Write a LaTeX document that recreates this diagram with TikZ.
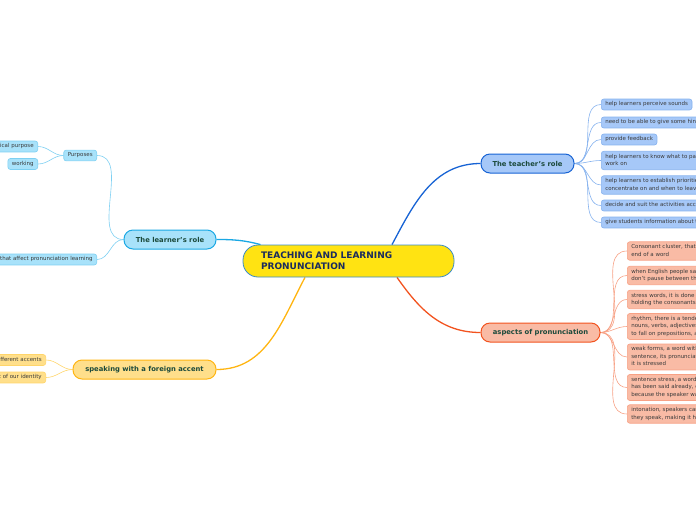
\documentclass[tikz,border=0pt]{standalone}
\usepackage{fontspec}
\setmainfont{DejaVu Sans}
\usepackage{xcolor}
\usetikzlibrary{backgrounds,positioning}
\definecolor{coreyellow}{HTML}{FFE312}
\definecolor{coreedge}{HTML}{3A8BC8}
\definecolor{coretext}{HTML}{1A2B5E}
\definecolor{teachline}{HTML}{1763D4}
\definecolor{teachfill}{HTML}{A6C8F8}
\definecolor{teachsoft}{HTML}{86B2EE}
\definecolor{learnline}{HTML}{1AA8E4}
\definecolor{learnfill}{HTML}{A8E2FA}
\definecolor{learnsoft}{HTML}{7ED0F2}
\definecolor{accentline}{HTML}{FFB512}
\definecolor{accentfill}{HTML}{FFDF8B}
\definecolor{accentsoft}{HTML}{FFD56A}
\definecolor{aspectline}{HTML}{F2531F}
\definecolor{aspectfill}{HTML}{F9BBA5}
\definecolor{aspectsoft}{HTML}{F7A185}
\definecolor{topictext}{HTML}{1C4A3C}
\definecolor{leaftext}{HTML}{3A3A3A}
\tikzset{
  core/.style={
    draw=coreedge, line width=0.8pt, fill=coreyellow, rounded corners=15pt,
    minimum width=211pt, minimum height=32pt, text width=175pt, align=left,
    text=coretext, font=\fontsize{9}{11}\selectfont\bfseries
  },
  topic/.style={
    line width=1pt, rounded corners=9pt, minimum height=19pt, inner sep=0pt,
    text=topictext, font=\fontsize{6.8}{8}\selectfont\bfseries
  },
  leaf/.style={
    line width=0.6pt, rounded corners=2.5pt, inner xsep=4pt, inner ysep=2.75pt,
    text depth=1.3pt, align=left, text=leaftext, font=\fontsize{5.5}{7.5}\selectfont
  },
  teachtopic/.style={topic, draw=teachline, fill=teachfill},
  learntopic/.style={topic, draw=learnline, fill=learnfill},
  accenttopic/.style={topic, draw=accentline, fill=accentfill},
  aspecttopic/.style={topic, draw=aspectline, fill=aspectfill},
  teachleaf/.style={leaf, draw=teachsoft, fill=teachfill, anchor=west},
  learnleaf/.style={leaf, draw=learnsoft, fill=learnfill, anchor=east},
  accentleaf/.style={leaf, draw=accentsoft, fill=accentfill, anchor=east},
  aspectleaf/.style={leaf, draw=aspectsoft, fill=aspectfill, anchor=west},
  branch/.style={line width=1.3pt},
  twig/.style={line width=0.6pt}
}
\begin{document}
\begin{tikzpicture}[x=1pt,y=1pt]
  \useasboundingbox (0,-520) rectangle (696,0);
  \clip (0,-520) rectangle (696,0);

  % Central topic
  \node[core] (centre) at (348.5,-261) {TEACHING AND LEARNING\\PRONUNCIATION};

  % Main topics
  \node[teachtopic, minimum width=93pt] (teacher) at (527.5,-163.5) {The teacher's role};
  \node[learntopic, minimum width=92pt] (learner) at (170,-239.5) {The learner's role};
  \node[accenttopic, minimum width=143pt] (accent) at (144.5,-369.5) {speaking with a foreign accent};
  \node[aspecttopic, minimum width=119pt] (aspects) at (540.5,-332.5) {aspects of pronunciation};

  % The teacher's role
  \node[teachleaf] (perceive) at (601,-104.5) {help learners perceive sounds};
  \node[teachleaf] (hints) at (601,-122.5) {need to be able to give some hints on how to produce the sounds};
  \node[teachleaf] (feedback) at (601,-139.5) {provide feedback};
  \node[teachleaf] (attention) at (601,-160.5) {help learners to know what to pay attention to and what to\\work on};
  \node[teachleaf] (priorities) at (601,-185) {help learners to establish priorities, what they should\\concentrate on and when to leave it};
  \node[teachleaf] (activities) at (601,-205.5) {decide and suit the activities according to the learners' needs};
  \node[teachleaf] (progress) at (601,-222.5) {give students information about their progress};

  % Aspects of pronunciation
  \node[aspectleaf] (cluster) at (627,-251) {Consonant cluster, that is, a group of consonants at the\\end of a word};
  \node[aspectleaf] (linking) at (627,-275.5) {when English people say a sentence, they\\don't pause between the words};
  \node[aspectleaf] (stress) at (627,-299.5) {stress words, it is done by lengthening the vowel or\\holding the consonants longer};
  \node[aspectleaf] (rhythm) at (627,-326.5) {rhythm, there is a tendency for the stress to fall on\\nouns, verbs, adjectives and adverbs and not\\to fall on prepositions, articles and auxiliaries};
  \node[aspectleaf] (weak) at (627,-357) {weak forms, a word with weak form in a\\sentence, its pronunciation changes when\\it is stressed};
  \node[aspectleaf] (sentence) at (627,-387.5) {sentence stress, a word may be stressed because it\\has been said already, or is new information, or\\because the speaker wants to emphasize it};
  \node[aspectleaf] (intonation) at (627,-414) {intonation, speakers can change the pitch of their voice as\\they speak, making it higher or lower};

  % The learner's role
  \node[learnleaf] (purposes) at (97,-155.5) {Purposes};
  \node[learnleaf] (practical) at (38,-146.5) {Practical purpose};
  \node[learnleaf] (working) at (38,-164) {working};
  \node[learnleaf] (factors) at (97,-259.5) {Factors that affect pronunciation learning};

  % Speaking with a foreign accent
  \node[accentleaf] (different) at (46,-360) {There are different accents};
  \node[accentleaf] (identity) at (46,-377.5) {Accent is a characteristic of our identity};

  % Connectors
  \begin{scope}[on background layer]
    \draw[branch, teachline] ([xshift=43.5pt]centre.north) to[out=62,in=180] (teacher.west);
    \draw[branch, aspectline] ([xshift=48.5pt]centre.south) to[out=-55,in=180] (aspects.west);
    \draw[branch, learnline] ([xshift=-88pt]centre.north) to[out=165,in=0] (learner.east);
    \draw[branch, accentline] ([xshift=-43.5pt]centre.south) to[out=-118,in=0] (accent.east);

    \draw[twig, teachsoft] (teacher.east) to[out=0,in=180] (perceive.west);
    \draw[twig, teachsoft] (teacher.east) to[out=0,in=180] (hints.west);
    \draw[twig, teachsoft] (teacher.east) to[out=0,in=180] (feedback.west);
    \draw[twig, teachsoft] (teacher.east) to[out=0,in=180] (attention.west);
    \draw[twig, teachsoft] (teacher.east) to[out=0,in=180] (priorities.west);
    \draw[twig, teachsoft] (teacher.east) to[out=0,in=180] (activities.west);
    \draw[twig, teachsoft] (teacher.east) to[out=0,in=180] (progress.west);

    \draw[twig, aspectsoft] (aspects.east) to[out=0,in=180] (cluster.west);
    \draw[twig, aspectsoft] (aspects.east) to[out=0,in=180] (linking.west);
    \draw[twig, aspectsoft] (aspects.east) to[out=0,in=180] (stress.west);
    \draw[twig, aspectsoft] (aspects.east) to[out=0,in=180] (rhythm.west);
    \draw[twig, aspectsoft] (aspects.east) to[out=0,in=180] (weak.west);
    \draw[twig, aspectsoft] (aspects.east) to[out=0,in=180] (sentence.west);
    \draw[twig, aspectsoft] (aspects.east) to[out=0,in=180] (intonation.west);

    \draw[twig, learnsoft] (learner.west) to[out=180,in=0] (purposes.east);
    \draw[twig, learnsoft] (learner.west) to[out=180,in=0] (factors.east);
    \draw[twig, learnsoft] (purposes.west) to[out=180,in=0] (practical.east);
    \draw[twig, learnsoft] (purposes.west) to[out=180,in=0] (working.east);

    \draw[twig, accentsoft] (accent.west) to[out=180,in=0] (different.east);
    \draw[twig, accentsoft] (accent.west) to[out=180,in=0] (identity.east);
  \end{scope}
\end{tikzpicture}
\end{document}
